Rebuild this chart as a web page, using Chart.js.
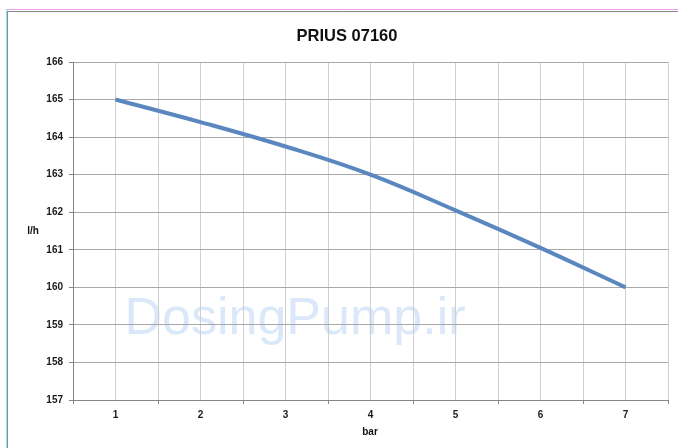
<!DOCTYPE html>
<html>
<head>
<meta charset="utf-8">
<script src="https://cdn.jsdelivr.net/npm/chart.js@4"></script>
<style>
  body { margin: 0; background: #fff; }
  canvas { display: block; }
</style>
</head>
<body>
<canvas id="pumpChart" width="678" height="448"></canvas>
<script>
// Chart data
const chartTitle = 'PRIUS 07160';
const pressureBar = [1, 2, 3, 4, 5, 6, 7];
const flowLh = [165.0, 164.4, 163.75, 163.0, 162.05, 161.05, 160.0];
const yTicks = [157, 166];

const tickFont = { family: 'Liberation Sans, Arial, sans-serif', size: 10, weight: 'bold' };

// Extra drawing: frame, title, axis titles and watermark
const decorations = {
  id: 'decorations',
  beforeDraw(chart) {
    const c = chart.ctx;
    c.save();
    // outer frame
    c.fillStyle = '#ffffff';
    c.fillRect(0, 0, chart.width, chart.height);
    c.strokeStyle = '#f0a0f0';
    c.lineWidth = 1;
    c.beginPath(); c.moveTo(6, 9.5); c.lineTo(678, 9.5); c.stroke();
    c.strokeStyle = '#7fe8f0';
    c.beginPath(); c.moveTo(6.5, 9); c.lineTo(6.5, 448); c.stroke();
    c.strokeStyle = '#8c8c8c';
    c.beginPath(); c.moveTo(7, 11.5); c.lineTo(678, 11.5); c.stroke();
    c.beginPath(); c.moveTo(7.5, 11); c.lineTo(7.5, 448); c.stroke();

    // watermark
    c.fillStyle = '#dbe8fa';
    c.font = '52px "Liberation Sans", Arial, sans-serif';
    c.textAlign = 'center';
    c.textBaseline = 'alphabetic';
    c.fillText('DosingPump.ir', 295, 334);
    c.restore();
  },
  afterDraw(chart) {
    const c = chart.ctx;
    c.save();
    c.fillStyle = '#111';
    c.textAlign = 'center';
    c.textBaseline = 'middle';
    c.font = 'bold 16.5px "Liberation Sans", Arial, sans-serif';
    c.fillText(chartTitle, 347, 36);
    c.font = 'bold 10px "Liberation Sans", Arial, sans-serif';
    c.fillText('l/h', 33, 231);
    c.fillText('bar', 370, 432);
    c.restore();
  }
};

const ctx = document.getElementById('pumpChart').getContext('2d');
const chart = new Chart(ctx, {
  type: 'line',
  data: {
    datasets: [{
      data: pressureBar.map((p, i) => ({ x: p, y: flowLh[i] })),
      borderColor: '#5b87c0',
      borderWidth: 4,
      pointRadius: 0,
      tension: 0.4,
      fill: false
    }]
  },
  options: {
    responsive: false,
    animation: false,
    layout: { padding: { top: 62, left: 0, right: 10, bottom: 0 } },
    plugins: {
      legend: { display: false },
      title: { display: false },
      tooltip: { enabled: false }
    },
    scales: {
      x: {
        type: 'linear',
        min: pressureBar[0] - 0.5,
        max: pressureBar[pressureBar.length - 1] + 0.5,
        afterFit(scale) { scale.height = 48; },
        ticks: {
          stepSize: 0.5,
          autoSkip: false,
          maxRotation: 0,
          padding: 5,
          color: '#1a1a1a',
          font: tickFont,
          callback: v => Number.isInteger(v) ? v : ''
        },
        grid: {
          color: '#cfcfcf',
          tickLength: 4,
          tickColor: c => (c.tick && Number.isInteger(c.tick.value)) ? 'rgba(0,0,0,0)' : '#868686'
        },
        border: { color: '#868686' }
      },
      y: {
        min: yTicks[0],
        max: yTicks[1],
        afterFit(scale) { scale.width = 73; },
        ticks: {
          stepSize: 1,
          padding: 6,
          color: '#1a1a1a',
          font: tickFont
        },
        grid: {
          color: '#a8a8a8',
          tickLength: 4,
          tickColor: '#868686'
        },
        border: { color: '#868686' }
      }
    }
  },
  plugins: [decorations]
});
</script>
</body>
</html>
